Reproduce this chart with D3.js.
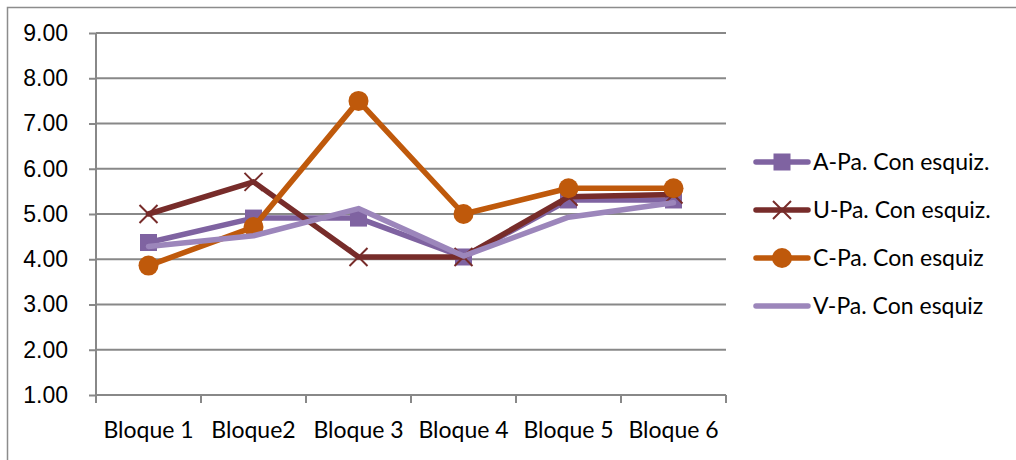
<!DOCTYPE html>
<html>
<head>
<meta charset="utf-8">
<script src="https://cdn.jsdelivr.net/npm/d3@7"></script>
<style>
  html, body { margin: 0; padding: 0; background: #fff; }
  svg { display: block; font-family: "Lato", "Open Sans", sans-serif; }
</style>
</head>
<body>
<svg id="chart" width="1016" height="460"></svg>
<script>
// Block categories along the x axis
const categories = ["Bloque 1", "Bloque2", "Bloque 3", "Bloque 4", "Bloque 5", "Bloque 6"];

// Series values per block
const seriesNames = ["A-Pa. Con esquiz.", "U-Pa. Con esquiz.", "C-Pa. Con esquiz", "V-Pa. Con esquiz"];
const valuesA = [4.37, 4.91, 4.91, 4.05, 5.31, 5.31];
const valuesU = [5.00, 5.71, 4.05, 4.05, 5.38, 5.43];
const valuesC = [3.86, 4.71, 7.50, 5.00, 5.57, 5.57];
const valuesV = [4.28, 4.52, 5.12, 4.07, 4.93, 5.25];

// Y axis tick labels
const yTicks = [1, 2, 3, 4, 5, 6, 7, 8, 9];

const seriesColors = ["#7f63a1", "#772c2a", "#bf590b", "#9c86bb"];
const seriesMarkers = ["square", "cross", "circle", "none"];

const series = [valuesA, valuesU, valuesC, valuesV].map((vals, i) => ({
  name: seriesNames[i],
  values: vals,
  color: seriesColors[i],
  marker: seriesMarkers[i]
}));

const fontSize = "23px";
const svg = d3.select("#chart");

const plot = { left: 96, right: 726, top: 33, bottom: 395 };

const x = d3.scaleBand().domain(categories).range([plot.left, plot.right]).paddingInner(0).paddingOuter(0);
const y = d3.scaleLinear().domain([1, 9]).range([plot.bottom, plot.top]);

// Outer chart frame
svg.append("path")
  .attr("d", "M7.5,460 V7.5 H1016")
  .attr("fill", "none")
  .attr("stroke", "#8c8c8c")
  .attr("stroke-width", 1.5);

// Horizontal gridlines
svg.append("g")
  .selectAll("line")
  .data(yTicks.slice(1))
  .join("line")
  .attr("x1", plot.left)
  .attr("x2", plot.right)
  .attr("y1", d => y(d))
  .attr("y2", d => y(d))
  .attr("stroke", "#888")
  .attr("stroke-width", 2);

// Y axis
const yAxis = svg.append("g")
  .attr("transform", `translate(${plot.left},0)`)
  .call(d3.axisLeft(y).tickValues(yTicks).tickFormat(d3.format(".2f")).tickSize(7).tickPadding(21));
yAxis.select(".domain").attr("stroke", "#888").attr("stroke-width", 2).attr("d", `M0,${plot.top}V${plot.bottom}`);
yAxis.selectAll(".tick line").attr("stroke", "#888").attr("stroke-width", 2);
yAxis.selectAll(".tick text").attr("fill", "#000").style("font-size", fontSize);

// X axis with ticks at category boundaries
const xAxis = svg.append("g")
  .attr("transform", `translate(0,${plot.bottom})`);
xAxis.append("line")
  .attr("x1", plot.left).attr("x2", plot.right)
  .attr("stroke", "#888").attr("stroke-width", 2);
const boundaries = categories.map(c => x(c)).concat([plot.right]);
xAxis.selectAll("line.tick")
  .data(boundaries)
  .join("line")
  .attr("class", "tick")
  .attr("x1", d => d).attr("x2", d => d)
  .attr("y1", 0).attr("y2", 8)
  .attr("stroke", "#888").attr("stroke-width", 2);
xAxis.selectAll("text")
  .data(categories)
  .join("text")
  .attr("x", d => x(d) + x.bandwidth() / 2)
  .attr("y", 43)
  .attr("text-anchor", "middle")
  .attr("fill", "#000")
  .style("font-size", fontSize)
  .text(d => d);

const cx = c => x(c) + x.bandwidth() / 2;

function drawMarker(g, type, color, px, py) {
  if (type === "square") {
    g.append("rect")
      .attr("x", px - 8.5).attr("y", py - 8.5)
      .attr("width", 17).attr("height", 17)
      .attr("fill", color);
  } else if (type === "circle") {
    g.append("circle")
      .attr("cx", px).attr("cy", py).attr("r", 10)
      .attr("fill", color);
  } else if (type === "cross") {
    const s = 9;
    g.append("path")
      .attr("d", `M${px - s},${py - s}L${px + s},${py + s}M${px - s},${py + s}L${px + s},${py - s}`)
      .attr("stroke", color).attr("stroke-width", 2).attr("fill", "none");
  }
}

const line = d3.line()
  .x((d, i) => cx(categories[i]))
  .y(d => y(d));

// Series lines and markers
const seriesG = svg.append("g");
series.forEach(s => {
  const g = seriesG.append("g");
  g.append("path")
    .attr("d", line(s.values))
    .attr("fill", "none")
    .attr("stroke", s.color)
    .attr("stroke-width", 5.5)
    .attr("stroke-linejoin", "round")
    .attr("stroke-linecap", "round");
  s.values.forEach((v, i) => drawMarker(g, s.marker, s.color, cx(categories[i]), y(v)));
});

// Legend
const legend = svg.append("g");
const legendY = [162, 210, 258, 306];
series.forEach((s, i) => {
  const g = legend.append("g").attr("transform", `translate(0,${legendY[i]})`);
  g.append("line")
    .attr("x1", 756).attr("x2", 808)
    .attr("stroke", s.color).attr("stroke-width", 5.5).attr("stroke-linecap", "round");
  drawMarker(g, s.marker, s.color, 782, 0);
  g.append("text")
    .attr("x", 813).attr("y", 0).attr("dy", "0.35em")
    .attr("fill", "#000")
    .style("font-size", fontSize)
    .text(s.name);
});
</script>
</body>
</html>
